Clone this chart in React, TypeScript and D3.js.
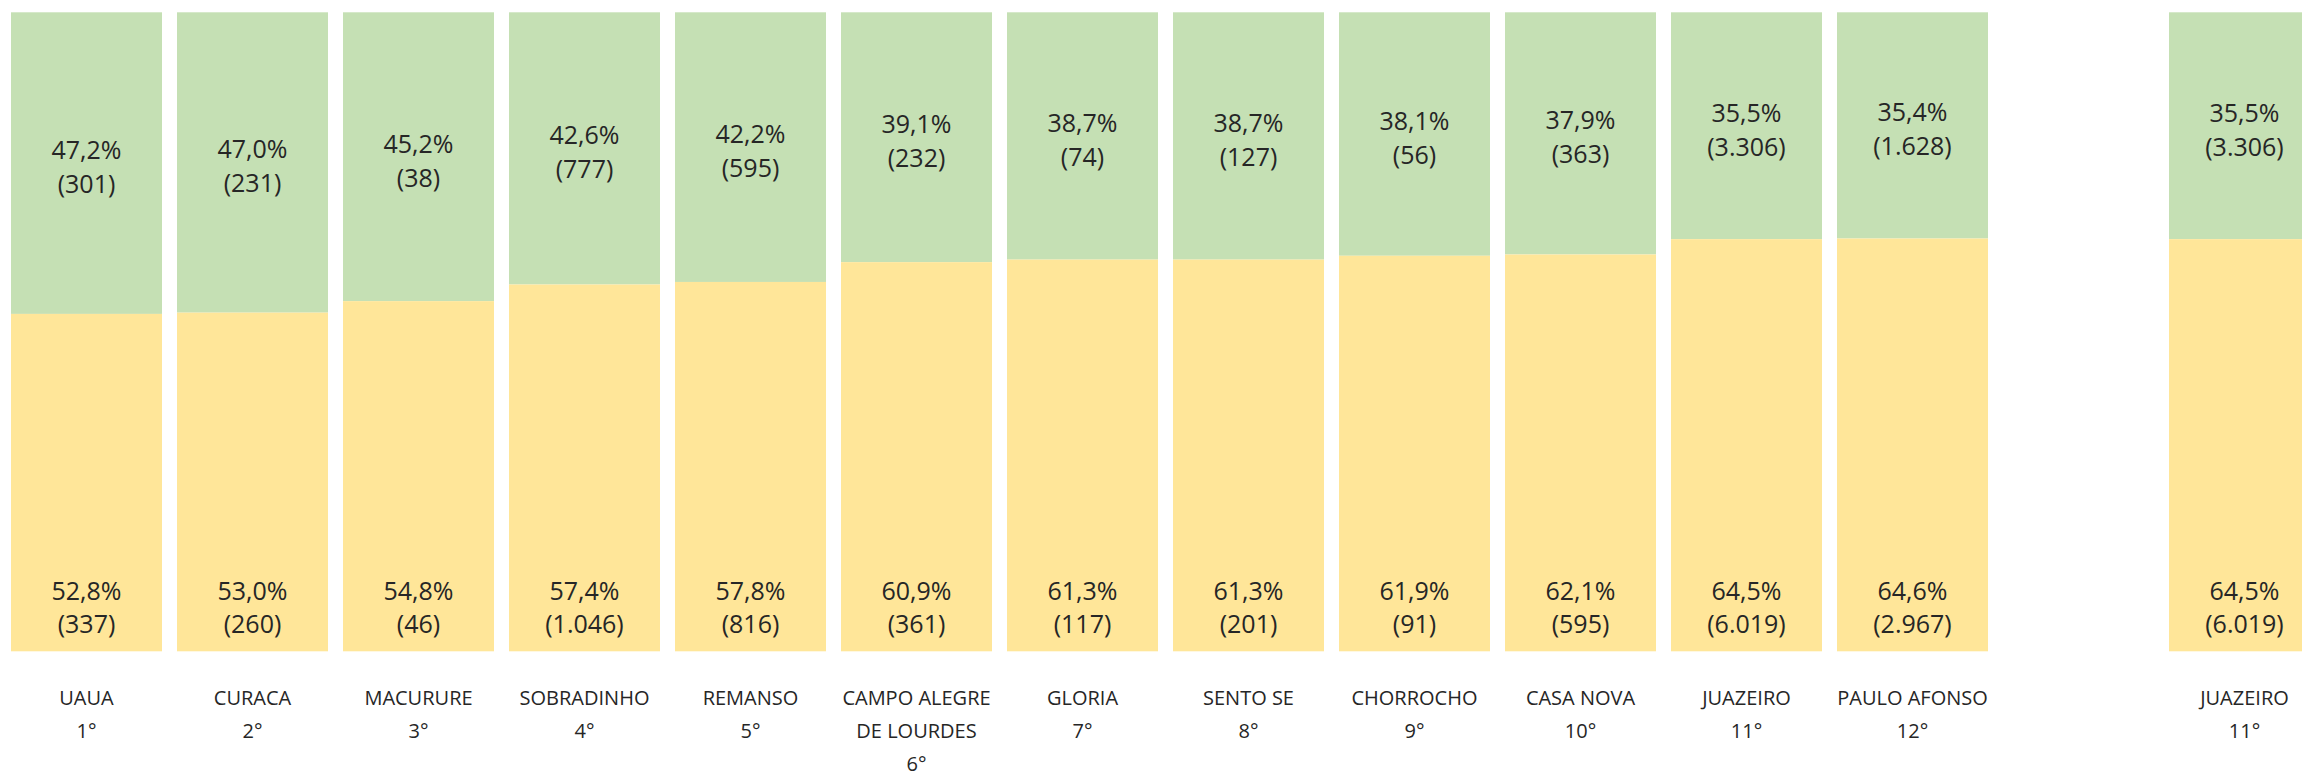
import React from "react";
import * as d3 from "d3";

const categories: string[][] = [
  ["UAUA"],
  ["CURACA"],
  ["MACURURE"],
  ["SOBRADINHO"],
  ["REMANSO"],
  ["CAMPO ALEGRE", "DE LOURDES"],
  ["GLORIA"],
  ["SENTO SE"],
  ["CHORROCHO"],
  ["CASA NOVA"],
  ["JUAZEIRO"],
  ["PAULO AFONSO"],
  ["JUAZEIRO"],
];
const ranks = ["1°", "2°", "3°", "4°", "5°", "6°", "7°", "8°", "9°", "10°", "11°", "12°", "11°"];
// slot index in the row (slot 12 is left empty)
const slots = [0, 1, 2, 3, 4, 5, 6, 7, 8, 9, 10, 11, 13];
const greenPct = [47.2, 47.0, 45.2, 42.6, 42.2, 39.1, 38.7, 38.7, 38.1, 37.9, 35.5, 35.4, 35.5];
const greenCount = [301, 231, 38, 777, 595, 232, 74, 127, 56, 363, 3306, 1628, 3306];
const yellowPct = [52.8, 53.0, 54.8, 57.4, 57.8, 60.9, 61.3, 61.3, 61.9, 62.1, 64.5, 64.6, 64.5];
const yellowCount = [337, 260, 46, 1046, 816, 361, 117, 201, 91, 595, 6019, 2967, 6019];

const W = 2302;
const H = 775;
const GREEN = "#C5E0B4";
const YELLOW = "#FFE699";
const TEXT = "#262626";
const FONT = "'Open Sans', 'Noto Sans', sans-serif";

const locale = d3.formatLocale({ decimal: ",", thousands: ".", grouping: [3], currency: ["R$", ""] });
const fmtPct = locale.format(".1f");
const fmtInt = locale.format(",d");

export default function App() {
  const x = d3
    .scaleBand<string>()
    .domain(d3.range(14).map(String))
    .range([11, 11 + 14 * 166 - 15])
    .paddingInner(15 / 166)
    .paddingOuter(0);
  const y = d3.scaleLinear().domain([0, 100]).range([651.3, 12.3]);
  const bw = x.bandwidth();

  return (
    <svg width={W} height={H} style={{ position: "absolute", left: 0, top: 0, background: "#fff" }}>
      {categories.map((cat, i) => {
        const x0 = x(String(slots[i]))!;
        const cx = x0 + bw / 2;
        const yb = y(yellowPct[i]);
        const yTop = y(100);
        const gMid = (yTop + yb) / 2 + 3;
        return (
          <g key={i}>
            <rect x={x0} y={yTop} width={bw} height={yb - yTop} fill={GREEN} />
            <rect x={x0} y={yb} width={bw} height={y(0) - yb} fill={YELLOW} />
            <g fontFamily={FONT} fontSize={25} fill={TEXT} textAnchor="middle" dominantBaseline="central">
              <text x={cx} y={gMid - 17}>{fmtPct(greenPct[i]) + "%"}</text>
              <text x={cx} y={gMid + 17}>{"(" + fmtInt(greenCount[i]) + ")"}</text>
              <text x={cx} y={y(0) - 61}>{fmtPct(yellowPct[i]) + "%"}</text>
              <text x={cx} y={y(0) - 28}>{"(" + fmtInt(yellowCount[i]) + ")"}</text>
            </g>
            <g fontFamily={FONT} fontSize={20} fill={TEXT} textAnchor="middle" dominantBaseline="central">
              {cat.map((line, j) => (
                <text key={j} x={cx} y={697 + j * 33}>{line}</text>
              ))}
              <text x={cx} y={697 + cat.length * 33}>{ranks[i]}</text>
            </g>
          </g>
        );
      })}
    </svg>
  );
}
